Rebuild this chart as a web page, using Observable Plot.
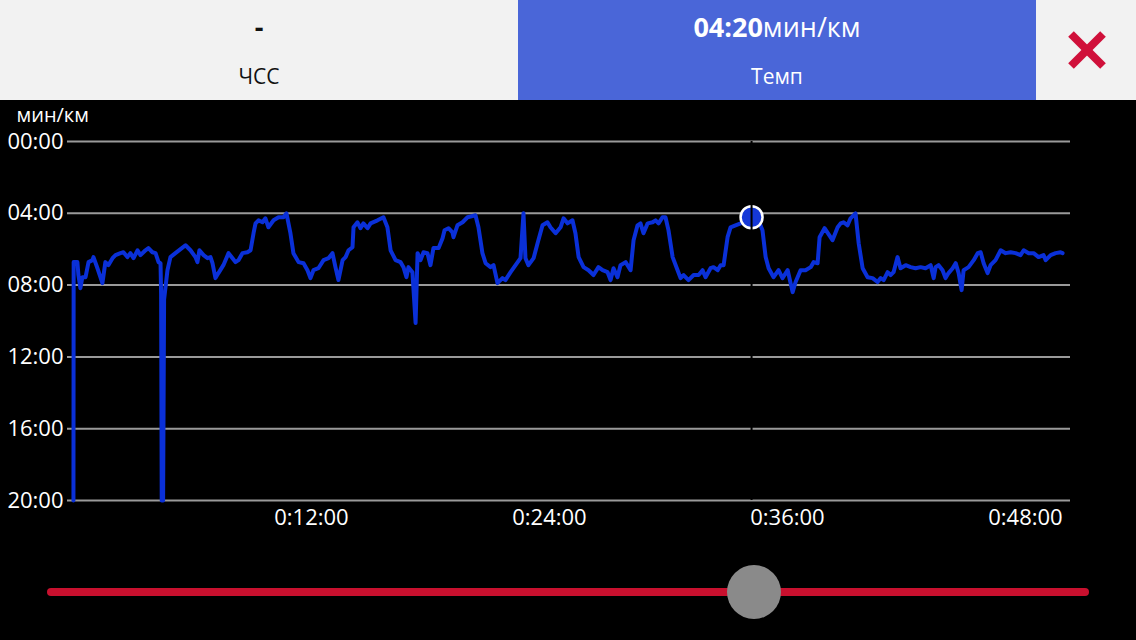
<!DOCTYPE html>
<html>
<head>
<meta charset="utf-8">
<script src="https://cdn.jsdelivr.net/npm/d3@7"></script>
<script src="https://cdn.jsdelivr.net/npm/@observablehq/plot@0.6"></script>
<style>
  html, body { margin: 0; padding: 0; }
  body { width: 1136px; height: 640px; background: #000; overflow: hidden; position: relative; font-family: "Open Sans", "Noto Sans", sans-serif; }
  .panel { position: absolute; top: 0; height: 100px; }
  .t1, .t2 { position: absolute; left: 0; right: 0; text-align: center; height: 36px; line-height: 36px; white-space: nowrap; }
  .t1 { top: 9px; font-size: 27px; }
  .t2 { top: 58px; font-size: 21px; }
  #chart { position: absolute; left: 0; top: 100px; }
  #track { position: absolute; left: 47px; top: 588px; width: 1042px; height: 8px; border-radius: 4px; background: #c8102e; }
  #knob { position: absolute; top: 565px; width: 54px; height: 54px; border-radius: 50%; background: #8a8a8a; }
</style>
</head>
<body>
<div class="panel" style="left:0;width:518px;background:#f2f2f2;color:#111;">
  <div class="t1" style="font-weight:700;" id="hrVal"></div>
  <div class="t2" id="hrLab"></div>
</div>
<div class="panel" style="left:518px;width:518px;background:#4a66d8;color:#fff;">
  <div class="t1" id="paceVal"></div>
  <div class="t2" id="paceLab"></div>
</div>
<div class="panel" style="left:1036px;width:100px;background:#f2f2f2;">
  <svg width="100" height="100" style="position:absolute;left:0;top:0">
    <line x1="35" y1="34" x2="67" y2="66" stroke="#d0103a" stroke-width="8"/>
    <line x1="67" y1="34" x2="35" y2="66" stroke="#d0103a" stroke-width="8"/>
  </svg>
</div>
<div id="chart"></div>
<div id="track"></div>
<div id="knob"></div>
<script>
// ---- data ----
const heartRateLabel = "ЧСС";
const heartRateValue = "-";
const paceLabel = "Темп";
const paceValueText = "04:20";
const paceUnit = "мин/км";

// elapsed time (minutes)
const timeMin = [
  0, 0.01, 0.20, 0.25, 0.35, 0.45, 0.61, 0.76, 0.96, 1.01, 1.21, 1.46, 1.61, 1.76, 1.97, 2.12, 2.37, 2.52, 2.72, 2.87,
  3.03, 3.23, 3.38, 3.63, 3.78, 3.98, 4.14, 4.29, 4.39, 4.42, 4.45, 4.52, 4.57, 4.74, 4.89, 5.14, 5.40, 5.65, 5.90, 6.15,
  6.25, 6.35, 6.56, 6.76, 6.91, 7.01, 7.16, 7.31, 7.56, 7.82, 8.02, 8.17, 8.32, 8.52, 8.77, 8.93, 9.08, 9.18, 9.33, 9.53,
  9.68, 9.83, 10.09, 10.34, 10.59, 10.74, 10.94, 11.09, 11.35, 11.60, 11.80, 11.95, 12.10, 12.35, 12.61, 12.86, 13.06, 13.21, 13.36, 13.57,
  13.72, 13.87, 14.07, 14.12, 14.32, 14.47, 14.62, 14.83, 14.98, 15.33, 15.63, 15.83, 15.99, 16.24, 16.49, 16.64, 16.79, 16.89, 17.09, 17.25,
  17.35, 17.50, 17.65, 17.85, 18.00, 18.15, 18.41, 18.61, 18.71, 18.91, 19.11, 19.16, 19.36, 19.62, 19.87, 20.27, 20.42, 20.62, 20.78, 21.03,
  21.18, 21.38, 21.63, 21.78, 22.04, 22.29, 22.54, 22.69, 22.79, 22.94, 23.20, 23.40, 23.65, 23.90, 24.05, 24.31, 24.56, 24.71, 24.91, 25.16,
  25.31, 25.47, 25.72, 25.97, 26.22, 26.47, 26.68, 26.93, 27.08, 27.23, 27.43, 27.58, 27.84, 28.09, 28.24, 28.44, 28.59, 28.74, 28.95, 29.20,
  29.35, 29.50, 29.70, 29.85, 30.00, 30.21, 30.46, 30.61, 30.76, 31.01, 31.27, 31.52, 31.72, 31.87, 32.12, 32.27, 32.48, 32.63, 32.78, 32.98,
  33.13, 33.38, 33.64, 33.89, 34.19, 34.49, 34.74, 34.90, 35.05, 35.30, 35.55, 35.75, 36.01, 36.26, 36.41, 36.66, 36.91, 37.17, 37.32, 37.52,
  37.62, 37.87, 38.27, 38.53, 38.68, 38.83, 39.03, 39.18, 39.43, 39.59, 39.79, 40.04, 40.29, 40.54, 40.70, 40.85, 41.05, 41.20, 41.35, 41.55,
  41.70, 41.96, 42.21, 42.46, 42.71, 42.96, 43.22, 43.37, 43.47, 43.62, 43.82, 43.97, 44.12, 44.33, 44.48, 44.63, 44.78, 44.88, 45.13, 45.39,
  45.59, 45.74, 45.89, 46.09, 46.24, 46.49, 46.75, 47.00, 47.25, 47.50, 47.75, 47.91, 48.16, 48.41, 48.66, 48.91, 49.02, 49.27, 49.52, 49.77,
  49.87
];
// pace (minutes per km)
const paceMin = [
  20, 6.72, 6.72, 7.44, 8.17, 7.56, 7.56, 6.72, 6.61, 6.44, 7.06, 7.89, 6.72, 6.89, 6.50, 6.33, 6.22, 6.17, 6.44, 6.22,
  6.50, 6.06, 6.33, 6.06, 5.94, 6.17, 6.22, 6.72, 6.78, 8.50, 20, 20, 8.80, 7.17, 6.44, 6.22, 6.00, 5.78, 6.06, 6.44,
  6.72, 6.06, 6.33, 6.50, 6.44, 6.78, 7.61, 7.33, 6.89, 6.22, 6.50, 6.72, 6.61, 6.22, 6.17, 6.06, 5.11, 4.56, 4.39, 4.50,
  4.28, 4.78, 4.39, 4.22, 4.22, 4.00, 5.11, 6.22, 6.72, 6.78, 7.17, 7.61, 7.17, 7.06, 6.61, 6.50, 6.22, 7.00, 7.72, 6.61,
  6.44, 6.06, 5.89, 4.78, 4.50, 4.83, 4.56, 4.83, 4.56, 4.39, 4.22, 4.78, 6.06, 6.61, 6.72, 7.00, 7.56, 7.00, 7.28, 10.11,
  6.22, 6.61, 6.17, 6.22, 6.89, 5.94, 5.94, 5.39, 4.94, 4.83, 5.06, 5.33, 4.67, 4.50, 4.22, 4.11, 4.78, 6.22, 6.78, 7.00,
  6.89, 7.89, 7.61, 7.72, 7.28, 6.89, 6.50, 4.00, 6.50, 6.89, 6.50, 5.67, 4.67, 4.50, 4.78, 5.11, 4.78, 4.28, 4.56, 4.39,
  5.11, 6.44, 7.00, 7.17, 7.44, 7.00, 7.17, 7.28, 7.72, 7.06, 7.56, 6.89, 6.72, 7.17, 5.50, 4.67, 4.56, 5.11, 4.56, 4.50,
  4.39, 4.56, 4.22, 4.22, 4.94, 6.44, 7.17, 7.61, 7.44, 7.72, 7.44, 7.44, 7.17, 7.56, 7.06, 7.00, 7.17, 6.89, 6.89, 5.33,
  4.78, 4.67, 4.56, 4.28, 4.22, 4.28, 4.94, 6.44, 7.06, 7.56, 7.17, 7.61, 7.17, 8.39, 7.83, 7.17, 7.17, 7.00, 6.72, 6.78,
  5.33, 4.83, 5.50, 4.78, 4.56, 4.50, 4.67, 4.28, 4.00, 5.67, 7.06, 7.56, 7.61, 7.83, 7.61, 7.72, 7.28, 7.44, 7.28, 6.44,
  7.06, 6.89, 7.00, 7.06, 7.00, 7.06, 6.89, 7.61, 7.00, 6.89, 7.17, 7.61, 7.33, 7.06, 6.78, 7.33, 8.28, 7.17, 7.00, 6.61,
  6.22, 6.17, 6.78, 7.33, 6.89, 6.61, 6.06, 6.22, 6.17, 6.22, 6.33, 6.06, 6.22, 6.22, 6.44, 6.33, 6.61, 6.33, 6.22, 6.17,
  6.22
];
const cursorTime = [34.19];
const cursorPace = [4.22];
const yTicks = [0, 4, 8, 12, 16, 20];
const xTicks = [12, 24, 36, 48];
const xDomain = [-0.3, 50.27];
const yDomain = [0, 20];

// ---- header ----
document.getElementById("hrVal").textContent = heartRateValue;
document.getElementById("hrLab").textContent = heartRateLabel;
document.getElementById("paceVal").innerHTML = `<b>${paceValueText}</b>${paceUnit}`;
document.getElementById("paceLab").textContent = paceLabel;

const pad = n => String(n).padStart(2, "0");
const data = timeMin.map((t, i) => ({t, pace: paceMin[i]}));
const cursor = cursorTime.map((t, i) => ({t, pace: cursorPace[i]}));

const chart = Plot.plot({
  width: 1136,
  height: 440,
  marginTop: 41,
  marginBottom: 40,
  marginLeft: 67,
  marginRight: 66,
  style: {background: "#000", color: "#fff", fontFamily: "'Open Sans', sans-serif", fontSize: "22px"},
  x: {domain: xDomain, ticks: xTicks, tickFormat: d => `0:${pad(d)}:00`, tickSize: 0, tickPadding: 9, label: null},
  y: {domain: yDomain, reverse: true, ticks: yTicks, tickFormat: d => `${pad(d)}:00`, tickSize: 0, tickPadding: 4, label: null},
  marks: [
    Plot.ruleY(yTicks, {stroke: "#9a9a9a", strokeWidth: 2}),
    Plot.line(data, {x: "t", y: "pace", stroke: "#0a30d8", strokeWidth: 4, strokeLinejoin: "round"}),
    Plot.dot(cursor, {x: "t", y: "pace", r: 11, fill: "#1538d8", stroke: "#fff", strokeWidth: 2.5}),
    Plot.ruleX(cursor, {x: "t", stroke: "#000", strokeWidth: 2}),
    Plot.text([paceUnit], {frameAnchor: "top-left", text: d => d, dx: -51, dy: -26, textAnchor: "start", lineAnchor: "middle", fill: "#fff", fontSize: 20})
  ]
});
document.getElementById("chart").appendChild(chart);

// slider knob at the cursor's share of the session
const frac = cursorTime[0] / xDomain[1];
document.getElementById("knob").style.left = (47 + 1042 * frac - 29) + "px";
</script>
</body>
</html>
